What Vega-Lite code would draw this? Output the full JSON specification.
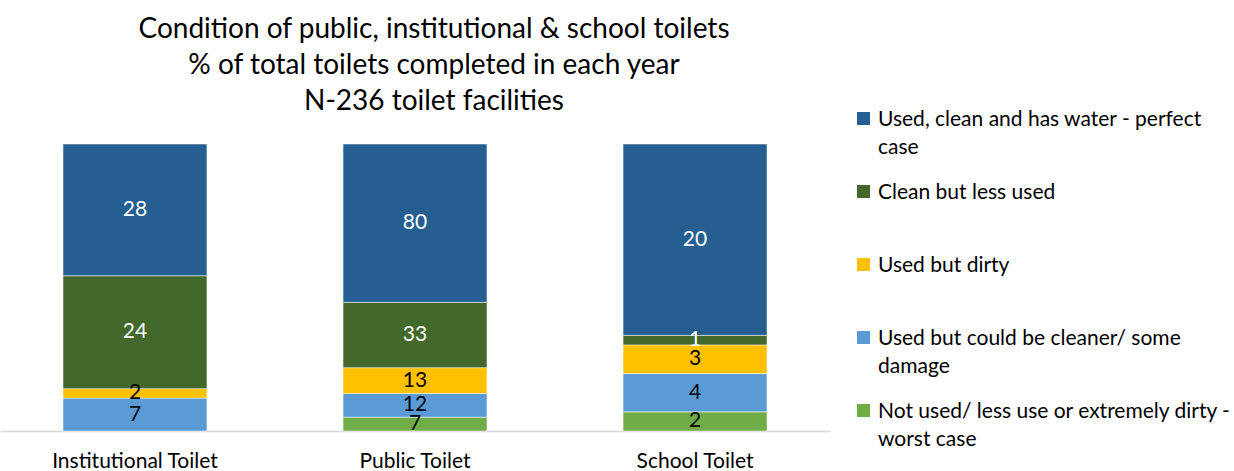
{
  "$schema": "https://vega.github.io/schema/vega-lite/v6.json",
  "autosize": {"type": "none"},
  "width": 830,
  "height": 287,
  "padding": {"left": 0, "top": 144, "right": 404, "bottom": 40},
  "background": "white",
  "config": {"view": {"stroke": null}, "font": "Lato", "style": {"guide-label": {"lineHeight": 28, "dy": 7}}},
  "title": {
    "text": ["Condition of public, institutional & school toilets", "% of total toilets completed in each year", "N-236 toilet facilities"],
    "fontSize": 28,
    "fontWeight": "normal",
    "font": "Lato",
    "color": "#000000",
    "lineHeight": 36,
    "anchor": "middle",
    "frame": "group",
    "dx": 19,
    "offset": -8
  },
  "data": {
    "values": [
      {"toilet": "Institutional Toilet", "condition": "Used but could be cleaner/ some damage", "count": 7},
      {"toilet": "Institutional Toilet", "condition": "Used but dirty", "count": 2},
      {"toilet": "Institutional Toilet", "condition": "Clean but less used", "count": 24},
      {"toilet": "Institutional Toilet", "condition": "Used, clean and has water - perfect case", "count": 28},
      {"toilet": "Public Toilet", "condition": "Not used/ less use or extremely dirty - worst case", "count": 7},
      {"toilet": "Public Toilet", "condition": "Used but could be cleaner/ some damage", "count": 12},
      {"toilet": "Public Toilet", "condition": "Used but dirty", "count": 13},
      {"toilet": "Public Toilet", "condition": "Clean but less used", "count": 33},
      {"toilet": "Public Toilet", "condition": "Used, clean and has water - perfect case", "count": 80},
      {"toilet": "School Toilet", "condition": "Not used/ less use or extremely dirty - worst case", "count": 2},
      {"toilet": "School Toilet", "condition": "Used but could be cleaner/ some damage", "count": 4},
      {"toilet": "School Toilet", "condition": "Used but dirty", "count": 3},
      {"toilet": "School Toilet", "condition": "Clean but less used", "count": 1},
      {"toilet": "School Toilet", "condition": "Used, clean and has water - perfect case", "count": 20}
    ]
  },
  "transform": [
    {"calculate": "4 - indexof(['Used, clean and has water - perfect case', 'Clean but less used', 'Used but dirty', 'Used but could be cleaner/ some damage', 'Not used/ less use or extremely dirty - worst case'], datum.condition)", "as": "stackKey"},
    {"stack": "count", "groupby": ["toilet"], "sort": [{"field": "stackKey", "order": "ascending"}], "offset": "normalize", "as": ["y0", "y1"]},
    {"calculate": "(datum.y0 + datum.y1) / 2", "as": "ymid"}
  ],
  "encoding": {
    "x": {
      "field": "toilet",
      "type": "nominal",
      "scale": {"paddingInner": 0.486, "paddingOuter": 0.225},
      "axis": {
        "title": null,
        "labelAngle": 0,
        "labelFontSize": 21,
        "labelColor": "#000000",
        "labelFont": "Lato",
        "labelPadding": 12,
        "ticks": false,
        "domainColor": "#d9d9d9",
        "domainWidth": 1.5
      }
    }
  },
  "layer": [
    {
      "mark": {"type": "bar", "stroke": "white", "strokeWidth": 0.5},
      "encoding": {
        "y": {"field": "y0", "type": "quantitative", "scale": {"domain": [0, 1]}, "axis": null},
        "y2": {"field": "y1"},
        "color": {
          "field": "condition",
          "type": "nominal",
          "scale": {
            "domain": ["Used, clean and has water - perfect case", "Clean but less used", "Used but dirty", "Used but could be cleaner/ some damage", "Not used/ less use or extremely dirty - worst case"],
            "range": ["#255E91", "#43682B", "#FFC000", "#5B9BD5", "#70AD47"]
          },
          "legend": {
            "title": null,
            "orient": "none",
            "legendX": 853,
            "legendY": -36,
            "symbolType": "square",
            "symbolSize": 169,
            "symbolStrokeWidth": 0,
            "labelFontSize": 21,
            "labelFont": "Lato",
            "labelColor": "#000000",
            "labelLimit": 400,
            "labelOffset": 4,
            "labelBaseline": "alphabetic",
            "gridAlign": "all",
            "rowPadding": 23,
            "labelExpr": "datum.label == 'Used, clean and has water - perfect case' ? ['Used, clean and has water - perfect', 'case'] : datum.label == 'Used but could be cleaner/ some damage' ? ['Used but could be cleaner/ some', 'damage'] : datum.label == 'Not used/ less use or extremely dirty - worst case' ? ['Not used/ less use or extremely dirty -', 'worst case'] : datum.label"
          }
        }
      }
    },
    {
      "mark": {"type": "text", "fontSize": 21, "font": "Lato", "baseline": "middle"},
      "encoding": {
        "y": {"field": "ymid", "type": "quantitative"},
        "text": {"field": "count", "type": "quantitative"},
        "color": {
          "condition": {"test": "datum.condition == 'Used, clean and has water - perfect case' || datum.condition == 'Clean but less used'", "value": "white"},
          "value": "black"
        }
      }
    }
  ]
}
